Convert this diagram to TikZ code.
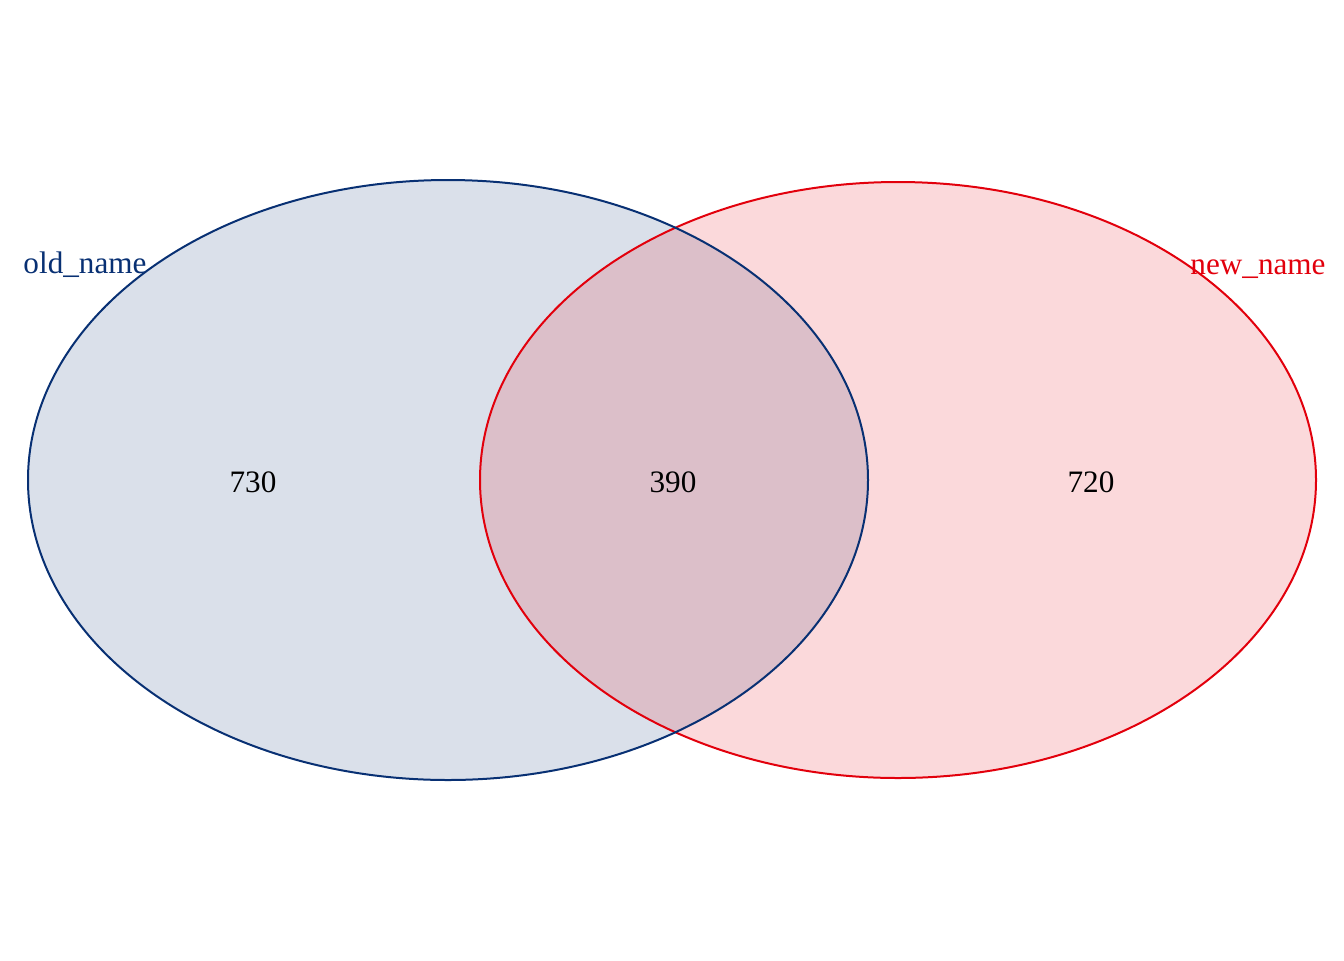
\documentclass[tikz,border=0pt]{standalone}
\usepackage{fontspec}
\setmainfont{Liberation Serif}
\usetikzlibrary{shapes.geometric}
\definecolor{oldcol}{RGB}{8,48,115}
\definecolor{newcol}{RGB}{226,0,12}
\tikzstyle{set}=[ellipse, fill opacity=0.15, inner sep=0pt, outer sep=0pt]
\tikzstyle{rim}=[line width=1pt]
\tikzstyle{count}=[anchor=base, inner sep=0pt, font=\fontsize{15.6}{18}\selectfont]

\begin{document}
\begin{tikzpicture}[x=0.5pt,y=-0.5pt]
      \useasboundingbox (0,0) rectangle (1344,960);
      % the two sets
      \node [set, fill=oldcol, minimum width=420pt, minimum height=300pt] (old) at (448,480) {};
      \node [set, fill=newcol, minimum width=418pt, minimum height=298pt] (new) at (898,480) {};
      \draw [rim, newcol] (new.center) ellipse [x radius=418, y radius=298];
      \draw [rim, oldcol] (old.center) ellipse [x radius=420, y radius=300];

      % set names
      \node [count, text=oldcol] (oldname) at (85,273) {old\_name};
      \node [count, text=newcol] (newname) at (1258,274) {new\_name};

      % counts
      \node [count] (onlyold) at (253,492) {730};
      \node [count] (both) at (673,492) {390};
      \node [count] (onlynew) at (1091,492) {720};
  \end{tikzpicture}
\end{document}
